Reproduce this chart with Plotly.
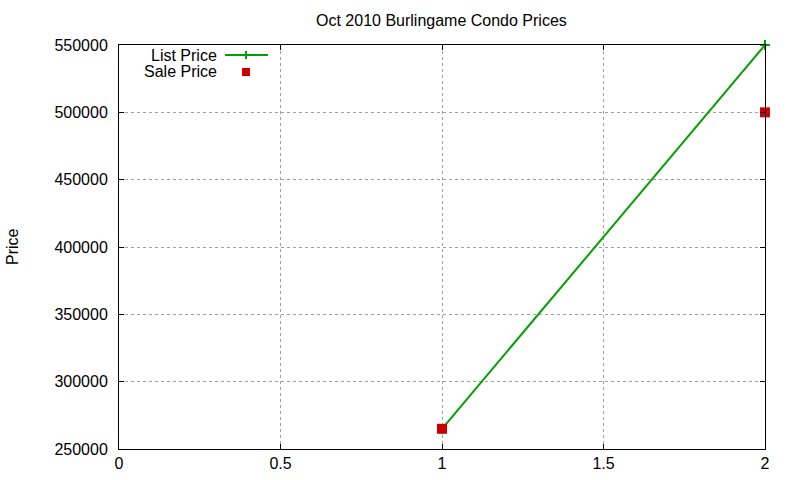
import plotly.graph_objects as go

# ── Data ───────────────────────────────────────────────────────────────────────
list_x = [1, 2]
list_price = [265000, 550000]
sale_x = [1, 2]
sale_price = [265000, 500000]

x_ticks = [0, 0.5, 1, 1.5, 2]
y_ticks = [250000, 300000, 350000, 400000, 450000, 500000, 550000]

_FONT = "Liberation Sans, Arial, sans-serif"
_GREEN = "#00a000"
_RED = "#cc0000"
_GRID = "#a0a0a0"

# plot area in page pixels
W, H = 800, 480
L, R, T, B = 119, 765, 45, 449


def px(x):
    return (x - L) / (R - L)


def py(y):
    return (B - y) / (B - T)


fig = go.Figure()
fig.add_trace(go.Scatter(
    x=list_x, y=list_price, name="List Price", mode="lines+markers",
    line=dict(color=_GREEN, width=2),
    marker=dict(symbol="cross-thin", size=7, line=dict(color=_GREEN, width=2)),
    cliponaxis=False,
))
fig.add_trace(go.Scatter(
    x=sale_x, y=sale_price, name="Sale Price", mode="markers",
    marker=dict(symbol="square", size=10, color=_RED),
    cliponaxis=False,
))

_AX = dict(
    showline=True, linecolor="black", linewidth=1, mirror="ticks",
    ticks="inside", ticklen=5, tickcolor="black", automargin=False,
    showgrid=True, gridcolor=_GRID, griddash="dot", gridwidth=1,
    zeroline=False, tickfont=dict(size=16, color="black", family=_FONT),
)

# legend key drawn gnuplot style: text on the left, sample on the right
shapes = [
    dict(type="line", xref="paper", yref="paper",
         x0=px(225), x1=px(268), y0=py(55), y1=py(55),
         line=dict(color=_GREEN, width=2)),
    dict(type="line", xref="paper", yref="paper",
         x0=px(246), x1=px(246), y0=py(51), y1=py(59),
         line=dict(color=_GREEN, width=2)),
    dict(type="rect", xref="paper", yref="paper",
         x0=px(242), x1=px(250), y0=py(68), y1=py(76),
         fillcolor=_RED, line=dict(width=0)),
]
_TXT = dict(size=16, color="black", family=_FONT)
annotations = [
    dict(text="List Price", xref="paper", yref="paper", x=px(219), y=py(55),
         xanchor="right", yanchor="middle", showarrow=False, font=_TXT),
    dict(text="Sale Price", xref="paper", yref="paper", x=px(219), y=py(72),
         xanchor="right", yanchor="middle", showarrow=False, font=_TXT),
    dict(text="Price", xref="paper", yref="paper", x=px(12), y=py(247),
         xanchor="center", yanchor="middle", textangle=-90, showarrow=False, font=_TXT),
    dict(text="Oct 2010 Burlingame Condo Prices", xref="paper", yref="paper",
         x=px(441), y=py(21), xanchor="center", yanchor="middle",
         showarrow=False, font=_TXT),
]

fig.update_layout(
    width=W, height=H,
    paper_bgcolor="white", plot_bgcolor="white",
    font=dict(family=_FONT, size=16, color="black"),
    margin=dict(l=L, r=W - R, t=T, b=H - B, autoexpand=False),
    showlegend=False,
    xaxis=dict(range=[0, 2], tickvals=x_ticks, ticktext=[str(v) for v in x_ticks], **_AX),
    yaxis=dict(range=[250000, 550000], tickvals=y_ticks, ticktext=[str(v) for v in y_ticks],
               ticklabelstandoff=7, **_AX),
    shapes=shapes,
    annotations=annotations,
)

# drop the page's default body margin so the figure sits at 0,0
fig.write_html(
    "out.html",
    config={"displayModeBar": False},
    post_script="document.body.style.margin='0';",
)
